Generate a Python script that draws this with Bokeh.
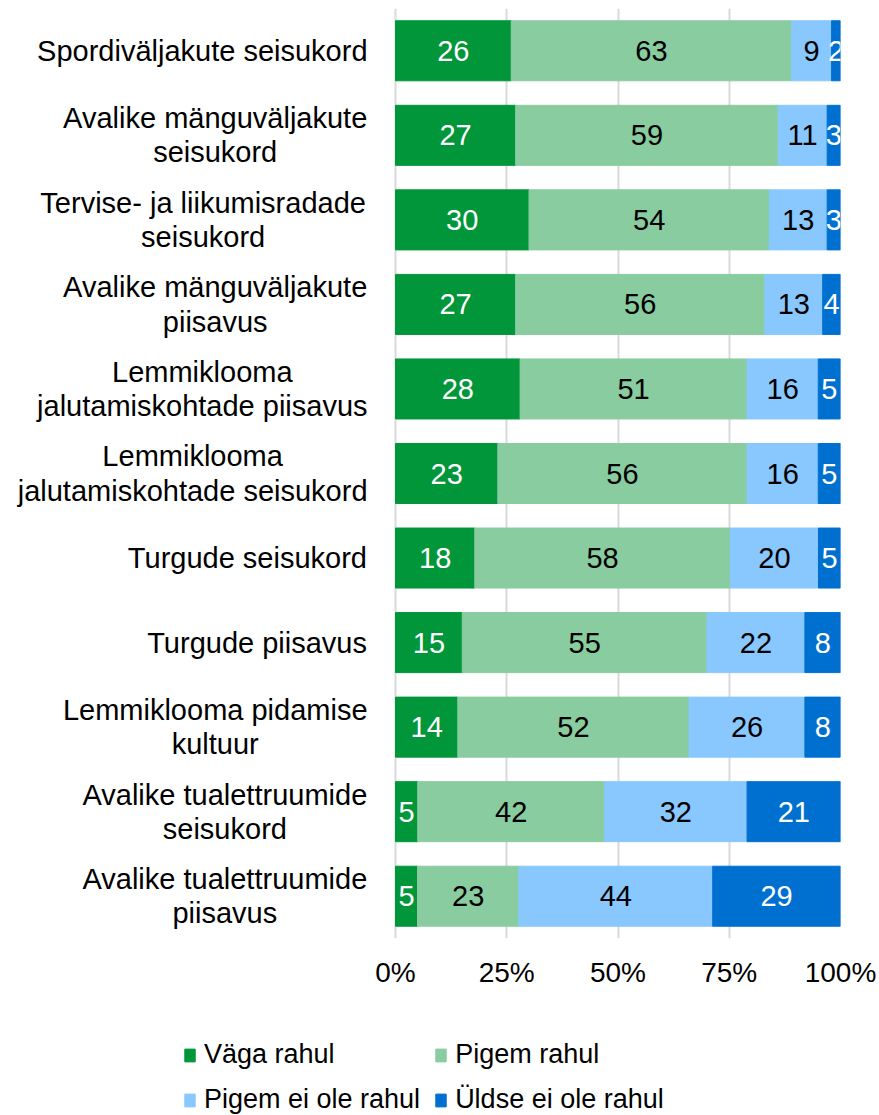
from bokeh.plotting import figure
from bokeh.layouts import column
from bokeh.models import ColumnDataSource, Range1d, FixedTicker, NumeralTickFormatter, Legend, LegendItem
from bokeh.core.properties import value
from bokeh.embed import file_html
from bokeh.resources import INLINE

categories = [
    "Spordiväljakute seisukord",
    "Avalike mänguväljakute\nseisukord",
    "Tervise- ja liikumisradade\nseisukord",
    "Avalike mänguväljakute\npiisavus",
    "Lemmiklooma\njalutamiskohtade piisavus",
    "Lemmiklooma\njalutamiskohtade seisukord",
    "Turgude seisukord",
    "Turgude piisavus",
    "Lemmiklooma pidamise\nkultuur",
    "Avalike tualettruumide\nseisukord",
    "Avalike tualettruumide\npiisavus",
]
vaga_rahul = [26, 27, 30, 27, 28, 23, 18, 15, 14, 5, 5]
pigem_rahul = [63, 59, 54, 56, 51, 56, 58, 55, 52, 42, 23]
pigem_ei_ole_rahul = [9, 11, 13, 13, 16, 16, 20, 22, 26, 32, 44]
uldse_ei_ole_rahul = [2, 3, 3, 4, 5, 5, 5, 8, 8, 21, 29]
series_names = ["Väga rahul", "Pigem rahul", "Pigem ei ole rahul", "Üldse ei ole rahul"]
colors = ["#009639", "#88CCA0", "#88C8FF", "#0070D0"]
label_colors = ["white", "black", "black", "white"]
tick_values = [0, 0.25, 0.5, 0.75, 1.0]

FONT = "Liberation Sans"
FS = 29

series = [vaga_rahul, pigem_rahul, pigem_ei_ole_rahul, uldse_ei_ole_rahul]
n = len(categories)
ys = [n - 1 - i for i in range(n)]
totals = [sum(s[i] for s in series) for i in range(n)]
fracs = [[s[i] / totals[i] for i in range(n)] for s in series]

# layout: frame spans fig px 0..840, 0% at px 395, 100% at px 840
PX_PER_UNIT = 445.0
ZERO_PX = 395.0
x_start = -ZERO_PX / PX_PER_UNIT

W_FIG, H_MAIN, H_LEG = 879, 1000, 115
p = figure(width=W_FIG, height=H_MAIN, x_range=Range1d(x_start, 1.0), y_range=Range1d(-0.5, n - 0.5),
           output_backend="svg", toolbar_location=None, y_axis_location=None,
           min_border_left=0, min_border_top=8, min_border_right=W_FIG - 840,
           min_border_bottom=H_MAIN - 938)
p.outline_line_color = None
p.background_fill_color = "white"

src = ColumnDataSource(dict(y=ys, **{f"s{j}": fracs[j] for j in range(4)}))
p.hbar_stack([f"s{j}" for j in range(4)], y="y", height=0.71, color=colors, source=src)

# value labels
left = [0.0] * n
for j in range(4):
    mids = [left[i] + fracs[j][i] / 2 for i in range(n)]
    p.text(x=mids, y=ys, text=[str(v) for v in series[j]], text_color=label_colors[j],
           text_align="center", text_baseline="middle", text_font=value(FONT),
           text_font_size=f"{FS}px")
    left = [left[i] + fracs[j][i] for i in range(n)]

# category labels: right-aligned block, lines centered
W = {' ': 278, '-': 333, 'A': 667, 'L': 556, 'S': 667, 'T': 611, 'a': 556, 'b': 556, 'c': 500,
     'd': 556, 'e': 556, 'g': 556, 'h': 556, 'i': 222, 'j': 222, 'k': 500, 'l': 222, 'm': 833,
     'n': 556, 'o': 556, 'p': 556, 'r': 333, 's': 500, 't': 278, 'u': 556, 'v': 500, 'ä': 556}

def text_w(s):
    return max(sum(W.get(c, 556) for c in line) for line in s.split("\n")) * FS / 1000.0

RIGHT_PX = 367.0
cx = [(RIGHT_PX - text_w(c) / 2 - ZERO_PX) / PX_PER_UNIT for c in categories]
p.text(x=cx, y=ys, text=categories, text_align="center", text_baseline="middle",
       text_font=value(FONT), text_font_size=f"{FS}px", text_line_height=1.07, text_color="black")

ax = p.xaxis[0]
ax.ticker = FixedTicker(ticks=tick_values)
ax.formatter = NumeralTickFormatter(format="0%")
ax.axis_line_color = None
ax.major_tick_line_color = None
ax.minor_tick_line_color = None
ax.major_label_standoff = 12
ax.major_label_text_font = FONT
ax.major_label_text_font_size = "28px"
ax.major_label_text_color = "black"

p.xgrid.ticker = FixedTicker(ticks=tick_values)
p.xgrid.grid_line_color = "#D9D9D9"
p.xgrid.grid_line_width = 2
p.ygrid.visible = False

# legend figure (swatch renderers sit outside the visible range)
pl = figure(width=W_FIG, height=H_LEG, x_range=Range1d(0, 1), y_range=Range1d(0, 1),
            output_backend="svg", toolbar_location=None, x_axis_location=None, y_axis_location=None,
            min_border=0)
pl.outline_line_color = None
pl.xgrid.visible = False
pl.ygrid.visible = False
lrends = [pl.hbar(y=[-10], left=[0], right=[1], height=0.5, color=c) for c in colors]
order = [0, 2, 1, 3]  # column-wise fill gives row-wise reading order
leg = Legend(items=[LegendItem(label=series_names[j], renderers=[lrends[j]]) for j in order])
leg.location = (183, 0)
leg.ncols = 2
leg.padding = 0
leg.margin = 0
leg.border_line_color = None
leg.background_fill_alpha = 0
leg.glyph_width = 13
leg.glyph_height = 16
leg.label_standoff = 8
leg.spacing = 14
leg.label_text_font = FONT
leg.label_text_font_size = "27px"
leg.label_text_color = "black"
pl.add_layout(leg, "center")

open("out.html", "w").write(file_html(column(p, pl, spacing=0), INLINE))
